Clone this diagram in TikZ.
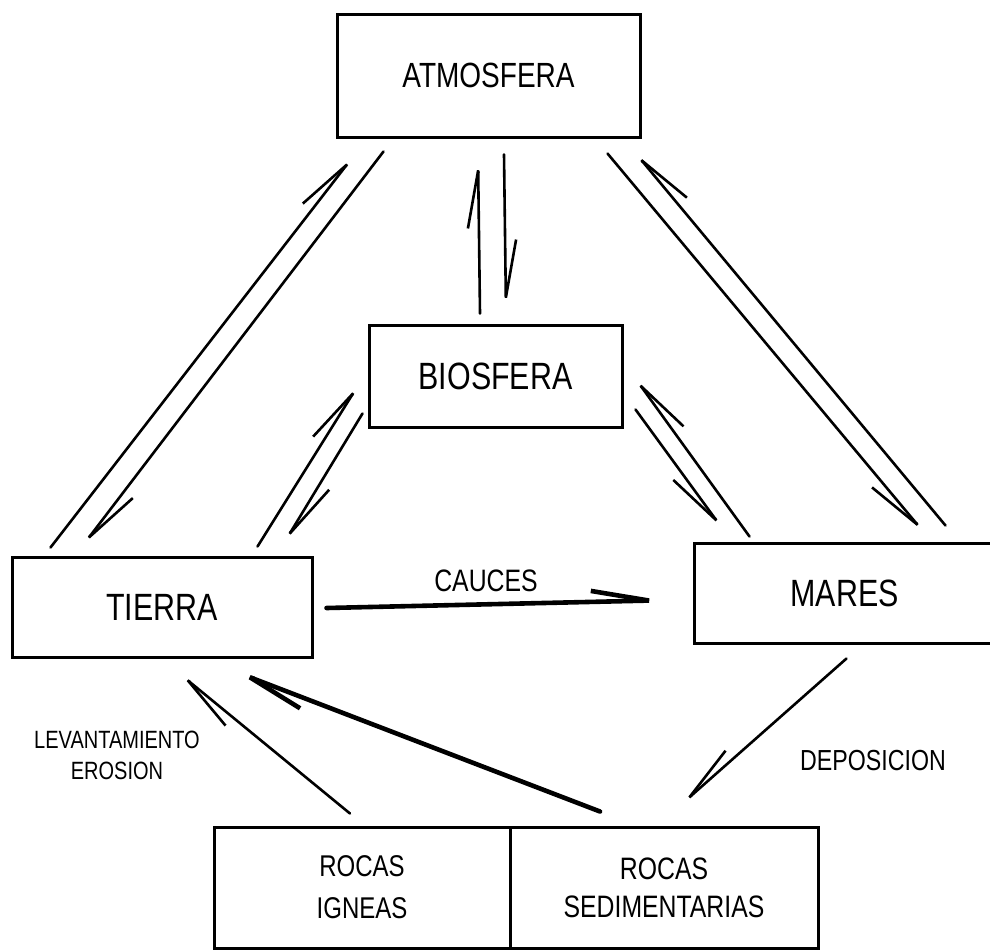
\documentclass[tikz,border=0pt]{standalone}
\usepackage{fontspec}
\setmainfont{Liberation Sans}[FakeStretch=0.8]
\usetikzlibrary{arrows.meta}

\begin{document}
\begin{tikzpicture}[x=1pt,y=-1pt,
  caja/.style={draw,line width=3pt,inner sep=0pt,font=\fontsize{38}{40}\selectfont},
  flujo/.style={line width=2.6pt,line cap=round,-{Straight Barb[left,length=58pt,width=22pt]}},
  flujoder/.style={line width=2.6pt,line cap=round,-{Straight Barb[right,length=58pt,width=22pt]}},
  grueso/.style={line width=4.6pt},
  rotulo/.style={inner sep=0pt,font=\fontsize{31}{34}\selectfont}]
\useasboundingbox (0,0) rectangle (990,951);
\clip (0,0) rectangle (990,951);
% the reservoirs
\node[caja,minimum width=303pt,minimum height=123pt,font=\fontsize{35}{40}\selectfont] (atm) at (488.5,75.5) {ATMOSFERA};
\node[caja,minimum width=253pt,minimum height=102pt] (bio) at (495.5,376) {BIOSFERA};
\node[caja,minimum width=300pt,minimum height=100pt] (tierra) at (162,607) {TIERRA};
\node[caja,minimum width=301pt,minimum height=100pt] (mares) at (844.5,593) {MARES};
\node[caja,minimum width=296pt,minimum height=121pt,align=center,font=\fontsize{30}{42}\selectfont] (ignea) at (362,887.5) {ROCAS\\IGNEAS};
\node[caja,minimum width=308pt,minimum height=121pt,align=center,font=\fontsize{31}{38}\selectfont] (sedim) at (664,887.5) {ROCAS\\SEDIMENTARIAS};
% labels
\node[rotulo] (cauces) at (486,581) {CAUCES};
\node[rotulo,align=center,font=\fontsize{25}{31}\selectfont] (levanta) at (117,755) {LEVANTAMIENTO\\EROSION};
\node[rotulo,font=\fontsize{29}{32}\selectfont] (depos) at (873,761) {DEPOSICION};
% atmosfera - tierra
\draw[flujo] ([shift={(40,-8)}]tierra.north west) -- ([shift={(20,15)}]atm.south west);
\draw[flujo] ([shift={(48,13)}]atm.south west) -- ([shift={(70,-7)}]tierra.north west);
% atmosfera - biosfera
\draw[flujo] ([shift={(-15.5,-10)}]bio.north) -- ([shift={(-10.5,18)}]atm.south);
\draw[flujo] ([shift={(15.5,16)}]atm.south) -- ([shift={(10.5,-12)}]bio.north);
% atmosfera - mares
\draw[flujoder] ([shift={(-34,15)}]atm.south east) -- ([shift={(234,-6)}]mares.north west);
\draw[flujoder] ([shift={(253,-16)}]mares.north west) -- ([shift={(-9,11)}]atm.south east);
% biosfera - tierra
\draw[flujo] ([shift={(-56,-9)}]tierra.north east) -- ([shift={(-7,-47)}]bio.south west);
\draw[flujo] ([shift={(-5,-15)}]bio.south west) -- ([shift={(-31,-10)}]tierra.north east);
% biosfera - mares
\draw[flujoder] ([shift={(57,-5)}]mares.north west) -- ([shift={(9,-54)}]bio.south east);
\draw[flujoder] ([shift={(12,-19)}]bio.south east) -- ([shift={(32,-10)}]mares.north west);
% tierra - mares
\draw[flujo,grueso] ([shift={(13,1)}]tierra.east) -- ([shift={(-19,7)}]mares.west);
% rocas
\draw[flujo] ([shift={(-12,-12)}]ignea.north) -- ([shift={(15,13)}]tierra.south);
\draw[flujo,grueso] ([shift={(-64,-14)}]sedim.north) -- ([shift={(65,10)}]tierra.south);
\draw[flujoder] ([shift={(2,14)}]mares.south) -- ([shift={(15,-19)}]sedim.north);
\end{tikzpicture}
\end{document}
